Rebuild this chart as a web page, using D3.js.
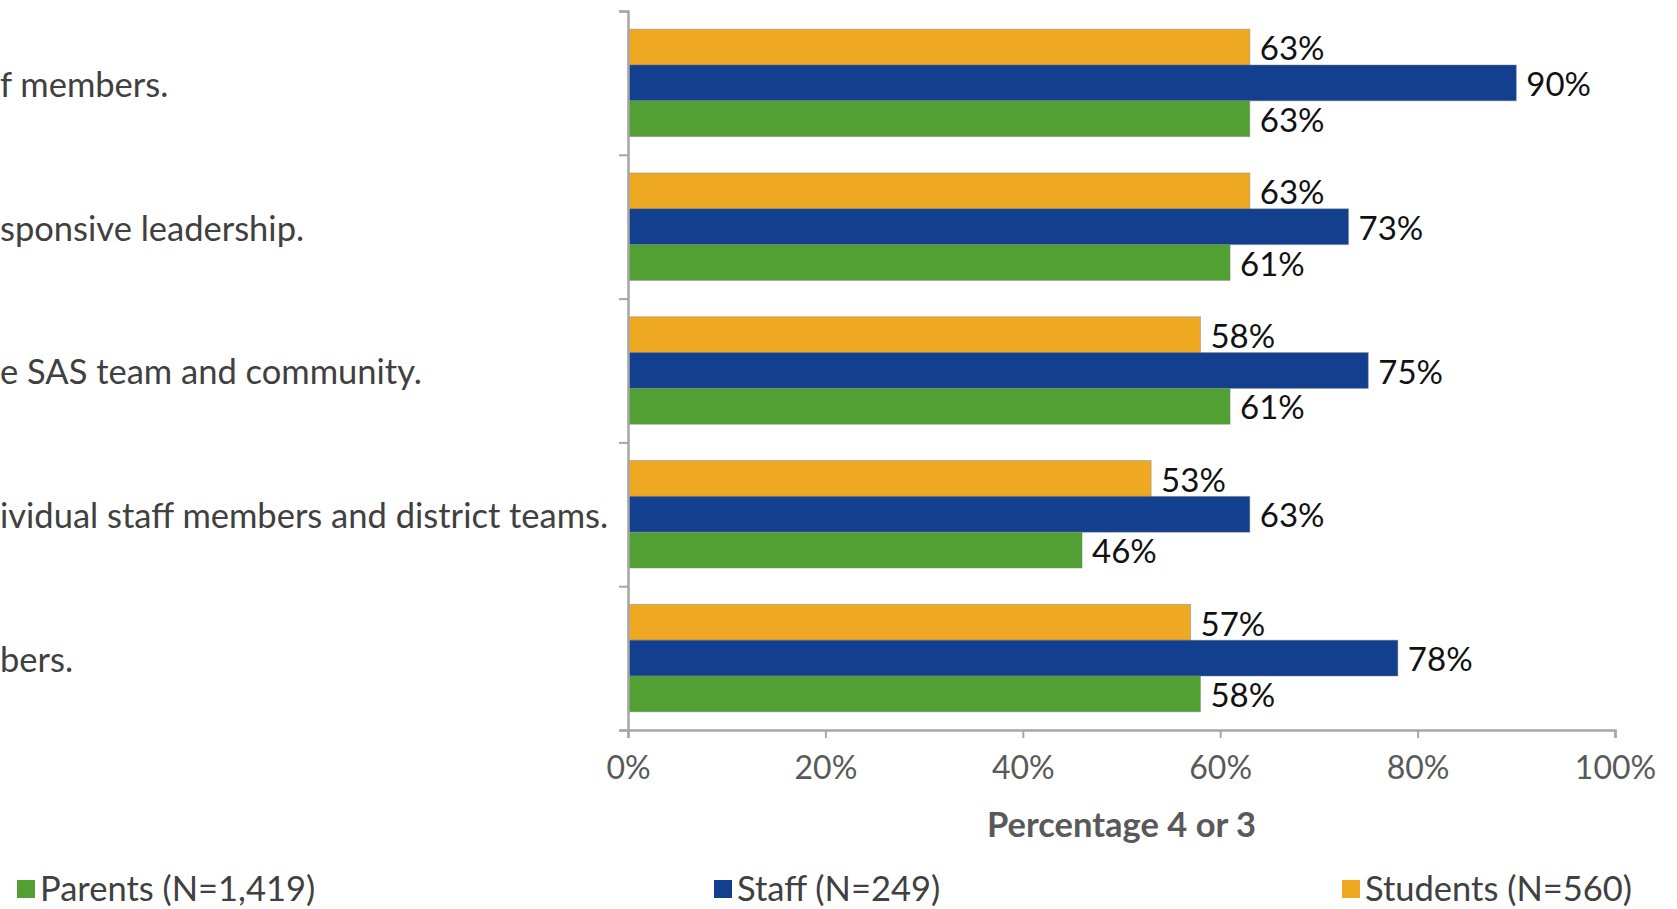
<!DOCTYPE html>
<html lang="en">
    <head>
        <meta charset="utf-8">
        <title>Percentage 4 or 3</title>
        <script type="text/javascript" src="https://d3js.org/d3.v7.min.js"></script>
        <style type="text/css">
            body { margin: 0; background: #fff; }
            svg { display: block; }
            text { font-family: Lato, "Open Sans", sans-serif; }
        </style>
    </head>
    <body>
        <script type="text/javascript">
            // data, top to bottom as the chart shows it
            // (the category labels are cut at the left edge of the picture)
            var categories = ["f members.", "sponsive leadership.", "e SAS team and community.",
                              "ividual staff members and district teams.", "bers."];
            var students = [63, 63, 58, 53, 57];
            var staff    = [90, 73, 75, 63, 78];
            var parents  = [63, 61, 61, 46, 58];
            var seriesNames = ["Students (N=560)", "Staff (N=249)", "Parents (N=1,419)"];
            var legendOrder = ["Parents (N=1,419)", "Staff (N=249)", "Students (N=560)"];
            var xTicks = [0, 20, 40, 60, 80, 100];
            var xTickLabels = ["0%", "20%", "40%", "60%", "80%", "100%"];
            var xTitle = "Percentage 4 or 3";

            var w = 1677;
            var h = 909;
            var plotLeft = 628, plotRight = 1615, plotTop = 11, plotBottom = 730;

            var colors = {
                "Students (N=560)": "#EEA822",
                "Staff (N=249)": "#123F8E",
                "Parents (N=1,419)": "#52A033"
            };
            var values = {
                "Students (N=560)": students,
                "Staff (N=249)": staff,
                "Parents (N=1,419)": parents
            };

            var svg = d3.select("body")
                        .append("svg")
                        .attr("width", w)
                        .attr("height", h);

            var x = d3.scaleLinear().domain([0, 100]).range([plotLeft, plotRight]);

            // Excel style: gap split evenly on both sides of each group
            var y = d3.scaleBand()
                      .domain(categories)
                      .range([plotTop, plotBottom])
                      .paddingInner(0.253)
                      .paddingOuter(0.1265);

            var ySeries = d3.scaleBand()
                            .domain(seriesNames)
                            .range([0, y.bandwidth()]);

            // bars
            var groups = svg.selectAll("g.cat")
                .data(categories)
                .enter()
                .append("g")
                .attr("class", "cat")
                .attr("transform", function(d) { return "translate(0," + y(d) + ")"; });

            groups.selectAll("rect")
                .data(function(d, i) {
                    return seriesNames.map(function(s) { return {s: s, v: values[s][i]}; });
                })
                .enter()
                .append("rect")
                .attr("x", x(0))
                .attr("y", function(d) { return ySeries(d.s); })
                .attr("width", function(d) { return x(d.v) - x(0); })
                .attr("height", ySeries.bandwidth())
                .attr("fill", function(d) { return colors[d.s]; })
                .attr("stroke", "#7f7f7f")
                .attr("stroke-opacity", 0.45)
                .attr("stroke-width", 1);

            groups.selectAll("text")
                .data(function(d, i) {
                    return seriesNames.map(function(s) { return {s: s, v: values[s][i]}; });
                })
                .enter()
                .append("text")
                .text(function(d) { return d.v + "%"; })
                .attr("x", function(d) { return x(d.v) + 10; })
                .attr("y", function(d) { return ySeries(d.s) + ySeries.bandwidth() / 2; })
                .attr("dy", "0.4em")
                .attr("font-size", "33px")
                .attr("fill", "#111");

            // category labels, left aligned like the cropped original
            svg.selectAll("text.catlabel")
                .data(categories)
                .enter()
                .append("text")
                .attr("class", "catlabel")
                .text(function(d) { return d; })
                .attr("x", 0)
                .attr("y", function(d) { return y(d) + y.bandwidth() / 2; })
                .attr("dy", "0.4em")
                .attr("font-size", "34.5px")
                .attr("fill", "#404040");

            // vertical axis with ticks on category boundaries
            var yEdge = d3.scaleLinear().domain([0, categories.length]).range([plotTop, plotBottom]);
            svg.append("g")
                .attr("transform", "translate(" + plotLeft + ",0)")
                .call(d3.axisLeft(yEdge).ticks(categories.length).tickFormat("").tickSizeOuter(0).tickSize(9));

            // horizontal axis
            var xAxis = svg.append("g")
                .attr("transform", "translate(0," + plotBottom + ")")
                .call(d3.axisBottom(x)
                    .tickValues(xTicks)
                    .tickFormat(function(d, i) { return xTickLabels[i]; })
                    .tickSizeOuter(0)
                    .tickSize(8)
                    .tickPadding(18));

            svg.selectAll(".domain").attr("stroke", "#a6a6a6").attr("stroke-width", 2.5);
            svg.selectAll(".tick line").attr("stroke", "#a6a6a6").attr("stroke-width", 2);
            xAxis.selectAll("text")
                .attr("font-size", "32px")
                .attr("fill", "#595959")
                .attr("font-family", "Lato, 'Open Sans', sans-serif");

            svg.append("text")
                .text(xTitle)
                .attr("x", (plotLeft + plotRight) / 2)
                .attr("y", 837)
                .attr("text-anchor", "middle")
                .attr("font-size", "34.5px")
                .attr("font-weight", "bold")
                .attr("fill", "#595959");

            // legend
            var legendX = [17, 714, 1342];
            var legend = svg.selectAll("g.legend")
                .data(legendOrder)
                .enter()
                .append("g")
                .attr("class", "legend")
                .attr("transform", function(d, i) { return "translate(" + legendX[i] + ",0)"; });

            legend.append("rect")
                .attr("x", 0)
                .attr("y", 880)
                .attr("width", 18)
                .attr("height", 18)
                .attr("fill", function(d) { return colors[d]; });

            legend.append("text")
                .text(function(d) { return d; })
                .attr("x", 23)
                .attr("y", 901)
                .attr("font-size", "34.5px")
                .attr("fill", "#404040");
        </script>
    </body>
</html>
